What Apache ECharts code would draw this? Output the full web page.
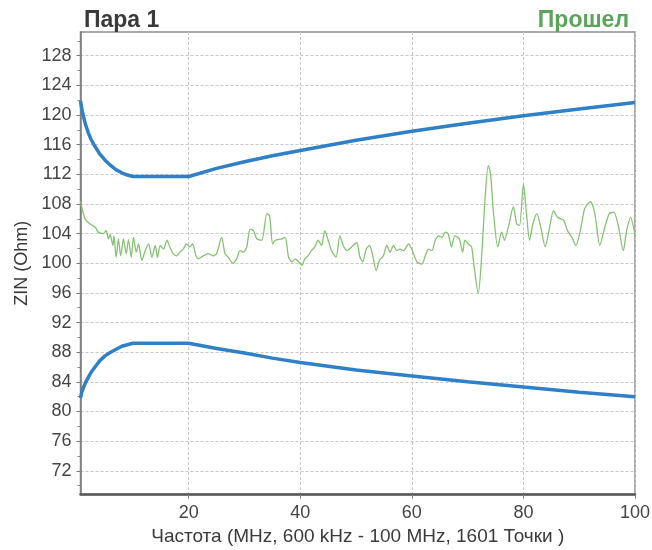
<!DOCTYPE html>
<html>
<head>
<meta charset="utf-8">
<script src="https://cdn.jsdelivr.net/npm/echarts@6/dist/echarts.min.js"></script>
<style>
  html, body { margin: 0; padding: 0; background: #ffffff; }
  #chart { width: 652px; height: 550px; }
</style>
</head>
<body>
<div id="chart"></div>
<script>
// Impedance limit lines (MHz -> Ohm)
const freqLimit = [0.6, 0.8, 1, 1.5, 2, 2.5, 3, 4, 5, 6, 7, 8, 9, 10, 20, 25, 30, 35, 40, 50, 60, 70, 80, 90, 100];
const upperLimit = [121.9, 121.0, 120.2, 118.7, 117.6, 116.7, 116.0, 114.8, 113.9, 113.2, 112.6, 112.2, 111.9, 111.7, 111.7, 112.8, 113.7, 114.5, 115.2, 116.6, 117.8, 118.9, 119.9, 120.8, 121.7];
const lowerLimit = [81.8, 82.5, 83.0, 83.9, 84.6, 85.3, 85.8, 86.8, 87.5, 88.0, 88.4, 88.8, 89.0, 89.2, 89.2, 88.5, 87.9, 87.2, 86.6, 85.6, 84.8, 84.0, 83.3, 82.6, 82.0];

// Measured input impedance of the pair
const freqMeasured = [
  0.6, 1.4, 2.3, 3.2, 3.8, 4.7, 5.2, 5.6, 5.9, 6.4, 6.6, 7.0, 7.4, 7.8, 8.3, 8.8, 9.2, 9.7,
  10.1, 10.6, 11.0, 11.6, 12.2, 12.8, 13.4, 14.0, 14.4, 14.9, 15.5, 16.1, 16.6, 17.2, 17.8,
  18.4, 19.0, 19.6, 20.2, 20.7, 21.3, 21.7, 22.6, 23.5, 24.4, 25.0, 25.9, 26.5, 27.1, 27.9,
  28.6, 29.2, 29.8, 30.4, 31.0, 31.6, 32.2, 33.1, 34.0, 34.5, 35.05, 35.5, 36.7, 37.3, 37.9,
  38.5, 39.1, 39.7, 40.3, 40.8, 41.4, 42.0, 42.6, 43.2, 43.8, 44.4, 45.0, 45.6, 46.4, 47.1,
  47.7, 48.4, 49.2, 50.1, 50.7, 51.2, 51.8, 52.4, 53.0, 53.6, 54.2, 54.9, 55.5, 56.1, 56.7,
  57.3, 57.9, 58.5, 59.4, 60.0, 60.9, 61.8, 62.4, 63.0, 63.6, 64.2, 64.8, 65.4, 66.0, 66.5,
  67.1, 67.7, 68.5, 69.1, 69.5, 70.1, 70.7, 71.1, 71.9, 72.5, 73.1, 73.7, 74.1, 74.6, 75.4,
  76.1, 76.6, 77.3, 78.2, 78.8, 79.3, 80.0, 80.5, 81.1, 81.7, 82.4, 83.1, 83.9, 84.7, 85.4,
  86.1, 87.2, 87.9, 88.7, 89.4, 90.2, 91.0, 92.0, 92.8, 93.7, 94.6, 95.4, 96.2, 97.0, 97.9,
  98.5, 99.2, 100
];
const zinMeasured = [
  108.4, 106.0, 105.3, 104.9, 104.2, 104.0, 104.4, 103.3, 103.9, 102.4, 103.7, 100.8, 103.3, 101.0, 103.3, 101.3, 103.2, 100.8,
  103.5, 101.5, 102.6, 100.4, 101.7, 102.6, 100.8, 102.4, 100.8, 102.4, 101.9, 103.1, 102.2, 101.3, 101.0,
  101.5, 101.9, 102.6, 102.2, 102.6, 101.0, 100.6, 101.0, 101.3, 101.0, 101.3, 103.5, 101.3, 100.8, 100.0,
  100.6, 101.7, 101.5, 102.2, 104.6, 104.4, 103.3, 103.1, 106.7, 106.4, 102.6, 103.1, 103.3, 103.5, 100.8,
  100.2, 100.6, 100.2, 99.7, 100.6, 101.0, 101.7, 102.2, 103.1, 102.4, 104.4, 103.1, 101.7, 100.8, 103.7,
  102.4, 101.7, 102.2, 102.8, 100.8, 100.2, 101.9, 102.4, 101.0, 99.0, 100.4, 101.0, 102.4, 101.5, 102.4,
  101.7, 101.9, 101.7, 102.6, 101.9, 100.2, 99.9, 101.0, 101.9, 101.7, 103.1, 103.7, 103.5, 104.2, 104.0,
  102.2, 103.7, 103.3, 101.5, 103.1, 102.6, 102.2, 99.9, 95.9, 100.8, 108.5, 113.2, 112.1, 107.1, 102.2,
  104.2, 103.1, 104.9, 107.6, 105.3, 105.1, 110.7, 107.1, 103.1, 105.3, 106.7, 104.9, 102.2, 104.9, 107.1,
  106.2, 105.8, 104.4, 103.5, 102.4, 104.4, 107.4, 108.3, 106.7, 102.4, 104.9, 106.7, 106.9, 105.1, 101.7,
  104.4, 106.2, 103.8
];

// Axis ticks
const yTickLabels = [72, 76, 80, 84, 88, 92, 96, 100, 104, 108, 112, 116, 120, 124, 128];
const yMinorTicks = [70, 74, 78, 82, 86, 90, 94, 98, 102, 106, 110, 114, 118, 122, 126, 130];
const xTickLabels = [20, 40, 60, 80, 100];

const pairs = (xs, ys) => xs.map((x, i) => [x, ys[i]]);

const FONT = '"Liberation Sans", Arial, sans-serif';
const Y_MIN = 68.8, Y_MAX = 131.2;

const chart = echarts.init(document.getElementById('chart'), null, { renderer: 'canvas' });

chart.setOption({
  backgroundColor: '#ffffff',
  animation: false,
  title: [
    {
      text: 'Пара 1',
      left: 79, top: 4,
      textStyle: { fontFamily: FONT, fontSize: 23, fontWeight: 'bold', color: '#3a3a3a' }
    },
    {
      text: 'Прошел',
      right: 18, top: 4,
      textStyle: { fontFamily: FONT, fontSize: 23, fontWeight: 'bold', color: '#5aa55a' }
    }
  ],
  grid: {
    left: 80.5, right: 17, top: 32, bottom: 55.5,
    outerBoundsMode: 'none',
    containLabel: false,
    show: true, borderColor: '#8f8f8f', borderWidth: 1.5, backgroundColor: 'transparent'
  },
  xAxis: {
    type: 'value',
    min: 0.6, max: 100,
    name: 'Частота (MHz, 600 kHz - 100 MHz, 1601 Точки )',
    nameLocation: 'middle',
    nameGap: 32,
    nameTextStyle: { fontFamily: FONT, fontSize: 19, color: '#3a3a3a' },
    axisLine: { show: true, lineStyle: { color: '#555555', width: 2.5 } },
    axisTick: { show: true, length: 4, customValues: xTickLabels, lineStyle: { color: '#777777' } },
    axisLabel: { customValues: xTickLabels, fontFamily: FONT, fontSize: 18, color: '#444444', margin: 10 },
    splitLine: { show: true, lineStyle: { color: '#c8c8c8', type: [3, 2], width: 1 } }
  },
  yAxis: [
    {
      type: 'value',
      min: Y_MIN, max: Y_MAX,
      name: 'ZIN (Ohm)',
      nameLocation: 'middle',
      nameGap: 48,
      nameTextStyle: { fontFamily: FONT, fontSize: 18, color: '#3a3a3a' },
      axisLine: { show: true, lineStyle: { color: '#7a7a7a', width: 1.5 } },
      axisTick: { show: true, length: 4, customValues: yTickLabels, lineStyle: { color: '#777777' } },
      axisLabel: { customValues: yTickLabels, fontFamily: FONT, fontSize: 18, color: '#444444', margin: 9 },
      splitLine: { show: true, lineStyle: { color: '#c8c8c8', type: [3, 2], width: 1 } }
    },
    {
      type: 'value',
      min: Y_MIN, max: Y_MAX,
      position: 'left',
      axisLine: { show: false },
      axisTick: { show: true, length: 3, customValues: yMinorTicks, lineStyle: { color: '#888888' } },
      axisLabel: { show: false },
      splitLine: { show: false }
    }
  ],
  series: [
    {
      name: 'upper',
      type: 'line',
      data: pairs(freqLimit, upperLimit),
      showSymbol: false,
      lineStyle: { color: '#2f80c6', width: 3.5 },
      z: 3
    },
    {
      name: 'lower',
      type: 'line',
      data: pairs(freqLimit, lowerLimit),
      showSymbol: false,
      lineStyle: { color: '#2f80c6', width: 3.5 },
      z: 3
    },
    {
      name: 'measured',
      type: 'line',
      data: pairs(freqMeasured, zinMeasured),
      showSymbol: false,
      smooth: 0.25,
      lineStyle: { color: '#86c273', width: 1.3 },
      z: 2
    }
  ]
});
</script>
</body>
</html>
